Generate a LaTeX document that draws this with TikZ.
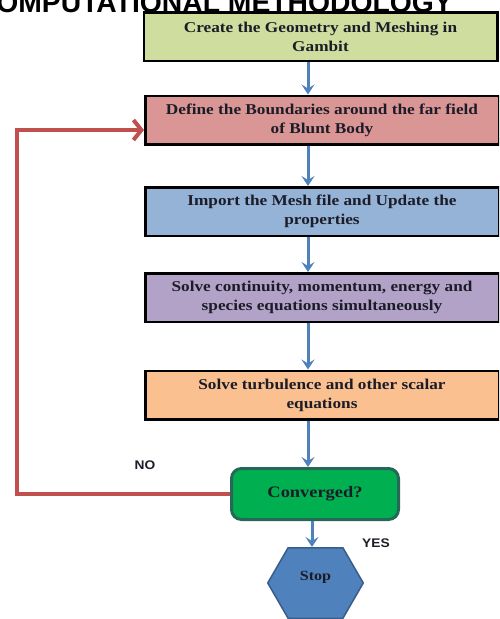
\documentclass[tikz,border=0pt]{standalone}
\usepackage{fontspec}
\setmainfont{Liberation Serif}
\newfontfamily\boxfont[FakeStretch=1.15]{Liberation Serif}
\newfontfamily\labelfont[FakeStretch=1.1]{Liberation Sans}
\newfontfamily\titlefont{Liberation Sans}
\usepackage{tikz}
\usetikzlibrary{arrows.meta,positioning,shapes.symbols}
\definecolor{geomgreen}{RGB}{207,222,158}
\definecolor{boundred}{RGB}{217,150,148}
\definecolor{meshblue}{RGB}{149,179,215}
\definecolor{solvepurple}{RGB}{179,162,199}
\definecolor{turborange}{RGB}{250,192,144}
\definecolor{convgreen}{RGB}{0,176,80}
\definecolor{convborder}{RGB}{38,104,88}
\definecolor{flowblue}{RGB}{79,129,189}
\definecolor{stopborder}{RGB}{56,93,138}
\definecolor{loopred}{RGB}{192,80,77}
\definecolor{boxtext}{RGB}{28,28,40}

\begin{document}
\begin{tikzpicture}[
  x=1pt, y=-1pt,
  font=\boxfont\bfseries\fontsize{15}{19}\selectfont,
  stepbox/.style={draw=black, line width=2.5pt, align=center, minimum width=353.5pt, minimum height=48.5pt, inner sep=2pt, text=boxtext},
  decision/.style={draw=convborder, line width=3pt, rounded corners=10pt, fill=convgreen, minimum width=167pt, minimum height=51pt, text=boxtext, font=\boxfont\bfseries\fontsize{16}{19}\selectfont},
  endstop/.style={signal, signal to=west and east, signal pointer angle=120, draw=stopborder, line width=1.5pt, fill=flowblue, minimum width=95.5pt, minimum height=70.5pt, inner sep=0pt, text depth=14pt, text=boxtext, font=\boxfont\bfseries\fontsize{14}{17}\selectfont},
  flow/.style={-{Stealth[length=10pt, width=13pt, inset=4pt]}, draw=flowblue, line width=3pt},
  loopback/.style={-{Straight Barb[length=8pt, width=20pt]}, draw=loopred, line width=4pt},
  answer/.style={font=\labelfont\bfseries\fontsize{12.5}{14}\selectfont, text=boxtext}
]
\useasboundingbox (0,0) rectangle (499,619);
\clip (0,0) rectangle (499,619);
\node[anchor=base east, inner sep=0pt, font=\titlefont\bfseries\fontsize{28.3}{30}\selectfont] (title) at (453,12.5) {COMPUTATIONAL METHODOLOGY};
\node[stepbox, fill=geomgreen] (geometry) at (320.5,36.5) {Create the Geometry and Meshing in\\Gambit};
\node[stepbox, fill=boundred] (bound) at (322,120) {Define the Boundaries around the far field\\of Blunt Body};
\node[stepbox, fill=meshblue] (import) at (322,211.5) {Import the Mesh file and Update the\\properties};
\node[stepbox, fill=solvepurple] (solve) at (322,297.5) {Solve continuity, momentum, energy and\\species equations simultaneously};
\node[stepbox, fill=turborange] (turb) at (322,395) {Solve turbulence and other scalar\\equations};
\node[decision] (conv) at (315,494) {Converged?};
\node[endstop] (stop) at (315.5,583) {Stop};
\node[answer] (no) at (145,465) {NO};
\node[answer] (yes) at (376,543) {YES};
\draw[flow] ([xshift=-12.5pt]geometry.south) -- ([xshift=-14pt]bound.north);
\draw[flow] ([xshift=-14pt]bound.south) -- ([xshift=-14pt]import.north);
\draw[flow] ([xshift=-14pt]import.south) -- ([xshift=-14pt]solve.north);
\draw[flow] ([xshift=-14pt]solve.south) -- ([xshift=-14pt]turb.north);
\draw[flow] ([xshift=-14pt]turb.south) -- ([xshift=-7pt]conv.north);
\draw[flow] ([xshift=-3pt]conv.south) -- ([xshift=-3.5pt]stop.north);
\draw[loopback] (conv.west) -- ++(-213,0) |- ([yshift=-10pt]bound.west);
\end{tikzpicture}
\end{document}
